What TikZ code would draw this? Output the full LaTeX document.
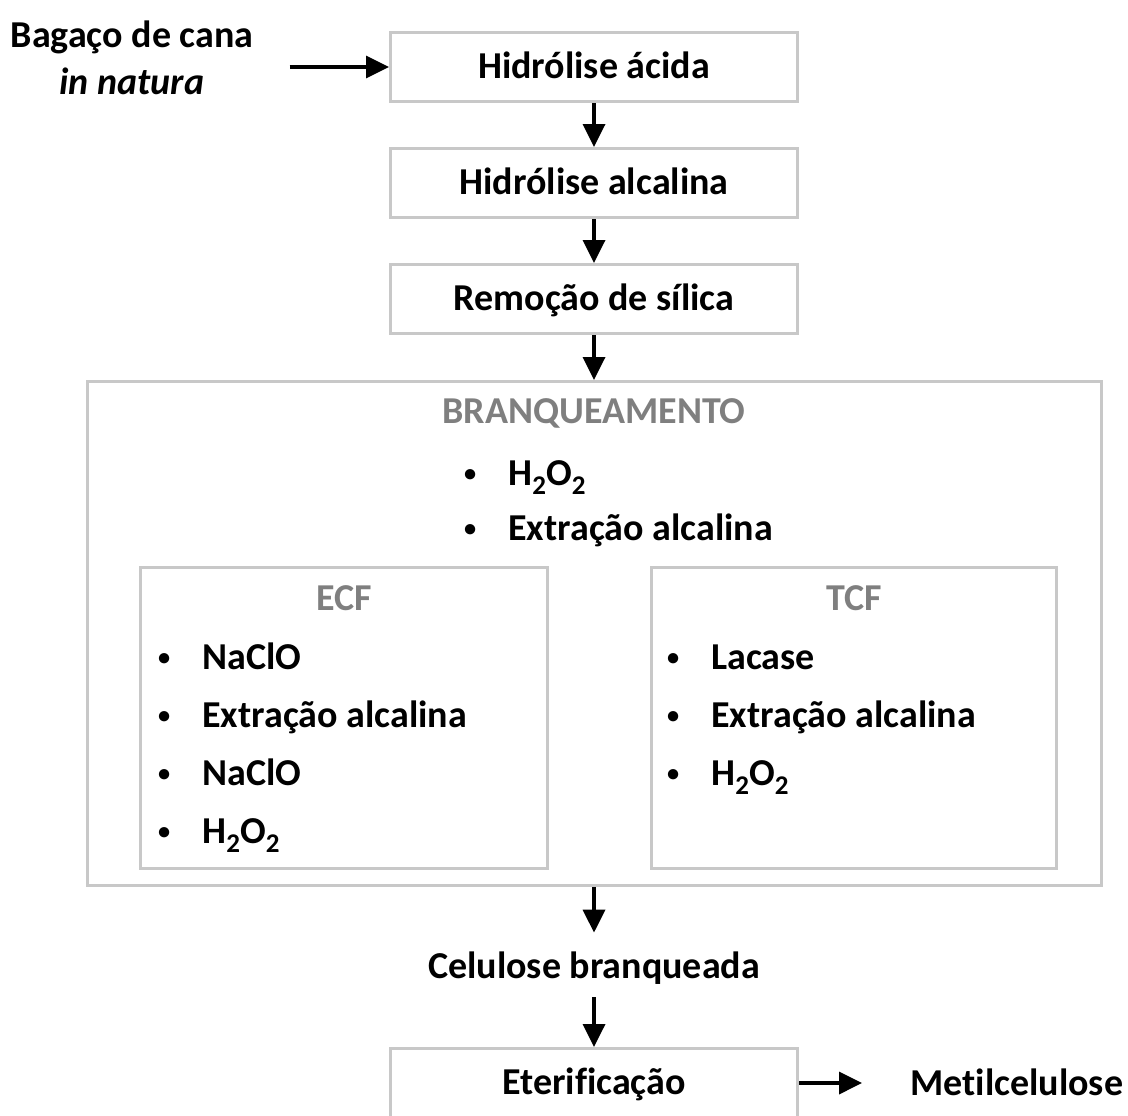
\documentclass[tikz,border=0pt]{standalone}
\usepackage{fontspec}
\setmainfont{Carlito}[Ligatures=NoCommon]
\usepackage{tikz}
\usetikzlibrary{arrows.meta, positioning}

\definecolor{boxgray}{RGB}{200,200,200}
\definecolor{titlegray}{RGB}{127,127,127}
\newcommand{\itm}[1]{\makebox[23.5pt][l]{\hspace{1.3pt}\raisebox{1.9pt}{\scalebox{0.64}{•}}}#1}
\newcommand{\chsub}[1]{\raisebox{-4.5pt}{\fontsize{13.5pt}{13.5pt}\selectfont #1}}

\begin{document}
\begin{tikzpicture}[x=0.5pt,y=-0.5pt,>={Triangle[length=11.5pt,width=11pt]},
    font=\fontsize{19pt}{22pt}\selectfont\bfseries,node distance=58pt,
    stage/.style={draw=boxgray,line width=1.5pt,minimum width=203.5pt,minimum height=34.5pt,
      text height=12pt,text depth=1pt,inner sep=0pt},
    panel/.style={draw=boxgray,line width=1.5pt,inner sep=0pt},
    txt/.style={inner sep=0pt,text height=13pt,text depth=4pt},
    item/.style={txt,anchor=base west},
    heading/.style={txt,anchor=base,text=titlegray}]
  \clip (0,0) rectangle (1128,1115);

  \node[inner sep=0pt,align=center] (bagaco) at (132,58) {Bagaço de cana\\[1.5pt]\textit{in natura}};
  \node[stage]                      (acida)  at (594,67)    {Hidrólise ácida};
  \node[stage]   (alcalina) [below of=acida]    {Hidrólise alcalina};
  \node[stage]   (silica)   [below of=alcalina] {Remoção de sílica};

  % branqueamento
  \node[panel,minimum width=507pt,minimum height=252pt] (branq) at (594,633.5) {};
  \node[heading] (branqt) at (594,423) {BRANQUEAMENTO};
  \node[item]    (b1)     at (461,485) {\itm{H\chsub{2}O\chsub{2}}};
  \node[item]    (b2)     at (461,540) {\itm{Extração alcalina}};

  \node[panel,minimum width=203.5pt,minimum height=150.5pt] (ecf) at (344,718) {};
  \node[heading] (ecft) at (344,610) {ECF};
  \node[item]    (e1)   at (155,669) {\itm{NaClO}};
  \node[item]    (e2)   at (155,727) {\itm{Extração alcalina}};
  \node[item]    (e3)   at (155,785) {\itm{NaClO}};
  \node[item]    (e4)   at (155,843) {\itm{H\chsub{2}O\chsub{2}}};

  \node[panel,minimum width=202.5pt,minimum height=150.5pt] (tcf) at (854,718) {};
  \node[heading] (tcft) at (854,610) {TCF};
  \node[item]    (t1)   at (664,669) {\itm{Lacase}};
  \node[item]    (t2)   at (664,727) {\itm{Extração alcalina}};
  \node[item]    (t3)   at (664,785) {\itm{H\chsub{2}O\chsub{2}}};

  \node[txt,anchor=base]      (celulose) at (594,978)  {Celulose branqueada};
  \node[stage]                (eter)     at (594,1083) {Eterificação};
  \node[txt,anchor=base west] (metil)    at (910,1095) {Metilcelulose};

  \path[->,line width=1.75pt]
        (bagaco.east |- acida) edge [shorten <=18pt] (acida)
        (acida)     edge []                 (alcalina)
        (alcalina)  edge []                 (silica)
        (silica)    edge []                 (branq)
        (branq)     edge [shorten >=9.5pt]  (celulose)
        (celulose)  edge [shorten <=5.5pt]  (eter)
        (eter)      edge [shorten >=24pt]   (eter -| metil.west)
        ;
\end{tikzpicture}
\end{document}
